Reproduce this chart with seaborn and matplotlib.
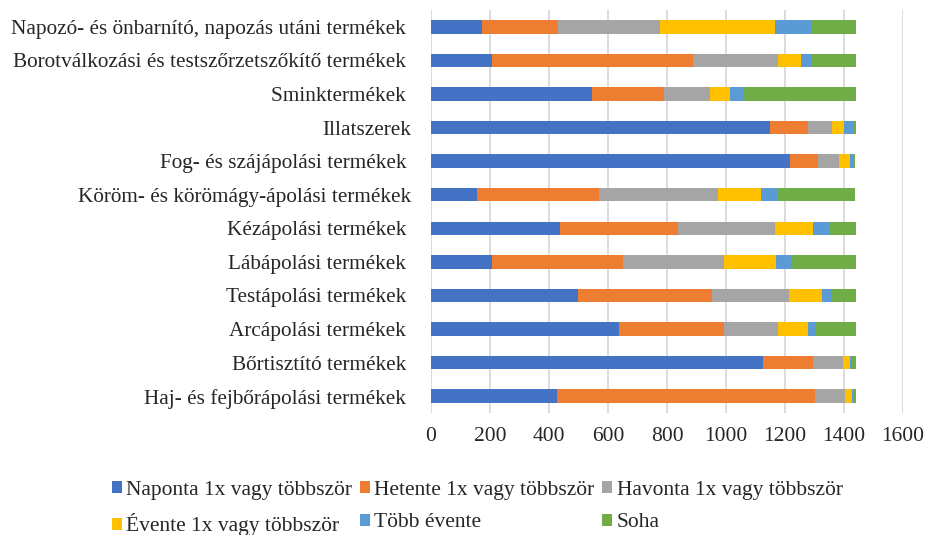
import pandas as pd
import numpy as np
import seaborn as sns
import matplotlib.pyplot as plt

sns.set_style('white')
plt.rcParams['font.family'] = ['Liberation Serif', 'DejaVu Serif']

# categories top to bottom as they appear in the chart
categories = ['Napozó- és önbarnító, napozás utáni termékek ',
              'Borotválkozási és testszőrzetszőkítő termékek ',
              'Sminktermékek ',
              'Illatszerek',
              'Fog- és szájápolási termékek ',
              'Köröm- és körömágy-ápolási termékek',
              'Kézápolási termékek ',
              'Lábápolási termékek ',
              'Testápolási termékek ',
              'Arcápolási termékek ',
              'Bőrtisztító termékek ',
              'Haj- és fejbőrápolási termékek ']

naponta = [173, 207, 545, 1150, 1216, 157, 437, 208, 498, 636, 1126, 428]
hetente = [258, 682, 244, 129, 95, 413, 400, 444, 455, 358, 169, 873]
havonta = [346, 286, 156, 81, 73, 403, 329, 342, 259, 182, 102, 102]
evente = [388, 79, 70, 40, 38, 147, 129, 174, 112, 103, 23, 23]
tobb_evente = [127, 35, 41, 29, 8, 54, 55, 53, 33, 27, 6, 3]
soha = [147, 150, 383, 10, 8, 264, 89, 218, 82, 133, 13, 10]

series_names = ['Naponta 1x vagy többször', 'Hetente 1x vagy többször',
                'Havonta 1x vagy többször', 'Évente 1x vagy többször',
                'Több évente', 'Soha']
colors = ['#4472C4', '#ED7D31', '#A5A5A5', '#FFC000', '#5B9BD5', '#70AD47']

df = pd.DataFrame({'cat': categories,
                   series_names[0]: naponta,
                   series_names[1]: hetente,
                   series_names[2]: havonta,
                   series_names[3]: evente,
                   series_names[4]: tobb_evente,
                   series_names[5]: soha})
cum = df[series_names].cumsum(axis=1)
cum['cat'] = df['cat']

fig = plt.figure(figsize=(9.26, 5.35), dpi=100)
ax = fig.add_axes([431 / 926, 1 - 413 / 535, 472 / 926, 403 / 535])

# stacked: draw the cumulative totals from the last series down to the first
for name, col in reversed(list(zip(series_names, colors))):
    sns.barplot(data=cum, x=name, y='cat', color=col, width=0.4, ax=ax,
                label=name, linewidth=0, saturation=1, order=categories)

ax.set_xlim(0, 1600)
ax.set_xticks(np.arange(0, 1601, 200))
ax.grid(axis='x', color='#d9d9d9', linewidth=1.3)
ax.set_axisbelow(True)
for s in ax.spines.values():
    s.set_visible(False)
ax.set_xlabel('')
ax.set_ylabel('')
ax.tick_params(axis='y', length=0, pad=14, labelsize=15.3)
ax.tick_params(axis='x', length=0, pad=10, labelsize=15.5)

handles, labels = ax.get_legend_handles_labels()
if ax.legend_ is not None:
    ax.legend_.remove()
hmap = dict(zip(labels, handles))
# row-major order for 3 columns
order = [series_names[i] for i in [0, 3, 1, 4, 2, 5]]
fig.legend([hmap[n] for n in order], order, loc='upper left',
           bbox_to_anchor=(112 / 926, 1 - 481 / 535), ncol=3, frameon=False,
           fontsize=15.5, handlelength=0.47, handleheight=0.47, borderpad=0,
           borderaxespad=0, handletextpad=0.2, columnspacing=0.35,
           labelspacing=0.62)

plt.savefig('out.png', dpi=100)
